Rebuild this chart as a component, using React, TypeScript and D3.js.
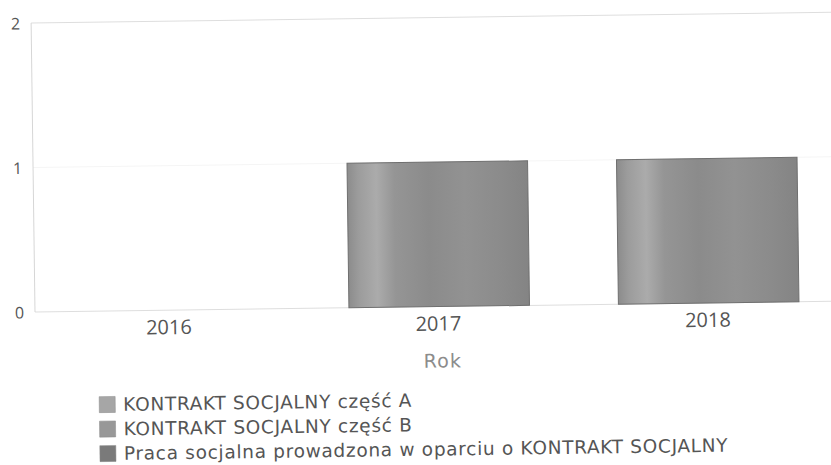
import React from "react";
import * as d3 from "d3";

const years = ["2016", "2017", "2018"];
const seriesNames = [
  "KONTRAKT SOCJALNY część A",
  "KONTRAKT SOCJALNY część B",
  "Praca socjalna prowadzona w oparciu o KONTRAKT SOCJALNY",
];
const seriesA = [0, 0, 0];
const seriesB = [0, 0, 0];
const seriesC = [0, 1, 1];
const yTicks = [0, 1, 2];
const axisTitle = "Rok";

const swatchColors = ["#a6a6a6", "#989898", "#7a7a7a"];
const barStops = [
  ["0%", "#8c8c8c"],
  ["6%", "#9c9c9c"],
  ["16%", "#ababab"],
  ["26%", "#959595"],
  ["45%", "#8b8b8b"],
  ["65%", "#929292"],
  ["85%", "#8b8b8b"],
  ["100%", "#848484"],
];

export default function App() {
  const W = 831;
  const H = 465;
  const left = 35;
  const base = 312;
  const rows = years.map((yr, i) => ({
    year: yr,
    s0: seriesA[i],
    s1: seriesB[i],
    s2: seriesC[i],
  }));
  const stacked = d3.stack<any>().keys(["s0", "s1", "s2"])(rows);

  const x = d3
    .scaleBand<string>()
    .domain(years)
    .range([left, 843.5])
    .paddingInner(0.33)
    .paddingOuter(0.165);
  const y = d3.scaleLinear().domain([0, 2]).range([base, 23]);

  const legendY = [405.5, 430, 454.5];

  return (
    <svg
      width={W}
      height={H}
      style={{ position: "absolute", left: 0, top: 0, background: "#fff" }}
    >
      <defs>
        {[0, 1, 2].map((k) => (
          <linearGradient key={k} id={`bg${k}`} x1="0" x2="1" y1="0" y2="0">
            {barStops.map(([o, c]) => (
              <stop key={o} offset={o} stopColor={c} />
            ))}
          </linearGradient>
        ))}
      </defs>
      <g transform={`rotate(-0.77 ${left} ${base})`}>
        {/* grid */}
        {yTicks.map((t) => (
          <line
            key={t}
            x1={left}
            x2={860}
            y1={y(t)}
            y2={y(t)}
            stroke={t === 1 ? "#f5f5f5" : "#dedede"}
            strokeWidth={1}
          />
        ))}
        <line x1={left} x2={left} y1={y(2)} y2={base} stroke="#d6d6d6" strokeWidth={1} />
        {/* y labels */}
        {yTicks.map((t) => (
          <text
            key={t}
            x={24}
            y={y(t) + 2}
            textAnchor="end"
            dominantBaseline="middle"
            fontFamily="'Open Sans', sans-serif"
            fontSize={16}
            fill="#555"
          >
            {t}
          </text>
        ))}
        {/* bars */}
        {stacked.map((s, k) =>
          s.map((d, i) => {
            const h = y(d[0]) - y(d[1]);
            if (h <= 0) return null;
            return (
              <rect
                key={`${k}-${i}`}
                x={x(years[i])}
                y={y(d[1])}
                width={x.bandwidth()}
                height={h}
                fill={`url(#bg${k})`}
                stroke="#6f6f6f"
                strokeWidth={1}
              />
            );
          })
        )}
        {/* x labels */}
        {years.map((yr) => (
          <text
            key={yr}
            x={(x(yr) as number) + x.bandwidth() / 2 - 1}
            y={336}
            textAnchor="middle"
            fontFamily="'Open Sans', sans-serif"
            fontSize={20}
            fill="#555"
          >
            {yr}
          </text>
        ))}
        <text
          x={(left + 843.5) / 2 + 3}
          y={373}
          textAnchor="middle"
          fontFamily="'DejaVu Sans', sans-serif"
          fontSize={19}
          letterSpacing={1.2}
          fill="#8c8c8c"
        >
          {axisTitle}
        </text>
        {/* legend */}
        {seriesNames.map((name, i) => (
          <g key={name}>
            <rect
              x={98}
              y={legendY[i] - 8}
              width={16}
              height={16}
              fill={swatchColors[i]}
              stroke="#888"
              strokeWidth={0.5}
            />
            <text
              x={122}
              y={legendY[i] + 6.5}
              fontFamily="'DejaVu Sans', sans-serif"
              fontSize={18.5}
              letterSpacing={0.7}
              fill="#555"
            >
              {name}
            </text>
          </g>
        ))}
      </g>
    </svg>
  );
}
